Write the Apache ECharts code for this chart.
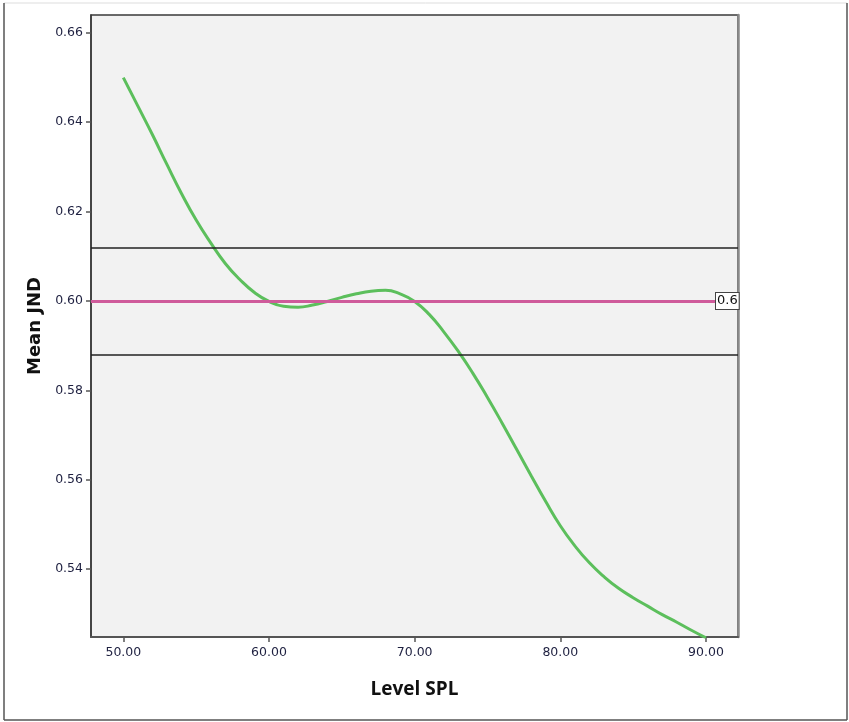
<!DOCTYPE html>
<html>
<head>
<meta charset="utf-8">
<script src="https://cdn.jsdelivr.net/npm/echarts@6/dist/echarts.min.js"></script>
<style>
  html, body { margin: 0; padding: 0; background: #ffffff; }
  #chart { width: 849px; height: 722px; }
</style>
</head>
<body>
<div id="chart"></div>
<script>
// Fitted mean JND curve by sound level (dB SPL)
const levelSPL = [50, 51, 52, 53, 54, 55, 56, 57, 58, 59, 60, 61, 62, 63, 64, 65, 66, 67, 68, 69, 70,
                  71, 72, 73, 74, 75, 76, 77, 78, 79, 80, 81, 82, 83, 84, 85, 86, 87, 88, 89, 90];
const meanJND = [0.6500, 0.6436, 0.6372, 0.6305, 0.6240, 0.6181, 0.6130, 0.6084, 0.6048, 0.6019, 0.5999,
                 0.5988, 0.5986, 0.5991, 0.5999, 0.6008, 0.6016, 0.6022, 0.6024, 0.6016, 0.5999,
                 0.5970, 0.5931, 0.5887, 0.5838, 0.5784, 0.5727, 0.5668, 0.5609, 0.5551, 0.5497,
                 0.5452, 0.5414, 0.5383, 0.5357, 0.5336, 0.5317, 0.5298, 0.5281, 0.5263, 0.5246];

// Reference lines: target value and its band
const targetValue = 0.6;
const bandLimits = [0.612, 0.588];

// Tick labels
const xTicks = [50, 60, 70, 80, 90];
const yTicks = [0.54, 0.56, 0.58, 0.60, 0.62, 0.64, 0.66];

const curve = levelSPL.map((x, i) => [x, meanJND[i]]);

const chart = echarts.init(document.getElementById('chart'), null, { renderer: 'canvas' });

const tickFont = { fontFamily: 'DejaVu Sans', fontSize: 12.5, color: '#1e2040' };

chart.setOption({
  animation: false,
  backgroundColor: '#ffffff',
  grid: {
    left: 91, top: 15, right: 111, bottom: 85,
    show: true, backgroundColor: '#f2f2f2', borderColor: '#3a3a3a', borderWidth: 1.5
  },
  xAxis: {
    type: 'value', min: 47.78, max: 92.2,
    splitLine: { show: false },
    axisLine: { show: true, onZero: false, lineStyle: { color: '#555', width: 2 } },
    axisTick: { show: true, customValues: xTicks, length: 5, lineStyle: { color: '#555', width: 1.5 } },
    axisLabel: {
      customValues: xTicks, margin: 9, ...tickFont,
      formatter: v => v.toFixed(2)
    },
    name: 'Level SPL', nameLocation: 'middle', nameGap: 43,
    nameTextStyle: { fontFamily: 'Open Sans', fontWeight: 'bold', fontSize: 19, color: '#111' }
  },
  yAxis: [{
    type: 'value', min: 0.5248, max: 0.6640,
    splitLine: { show: false },
    axisLine: { show: true, onZero: false, lineStyle: { color: '#3a3a3a', width: 1.5 } },
    axisTick: { show: true, customValues: yTicks, length: 5, lineStyle: { color: '#555', width: 1.5 } },
    axisLabel: {
      customValues: yTicks, margin: 8, ...tickFont,
      formatter: v => v.toFixed(2)
    },
    name: 'Mean JND', nameLocation: 'middle', nameGap: 46, nameRotate: 90,
    nameTextStyle: { fontFamily: 'DejaVu Sans', fontWeight: 'bold', fontSize: 18, color: '#111' }
  }, {
    type: 'value', position: 'right', min: 0.5248, max: 0.6640,
    splitLine: { show: false },
    axisLine: { show: true, lineStyle: { color: '#8a8a8a', width: 2.5 } },
    axisTick: { show: false }, axisLabel: { show: false }
  }],
  series: [{
    type: 'line',
    data: curve,
    smooth: true,
    showSymbol: false,
    lineStyle: { color: '#5cbf5c', width: 3 },
    z: 3,
    markLine: {
      silent: true,
      symbol: 'none',
      precision: 3,
      animation: false,
      data: [
        {
          yAxis: targetValue,
          lineStyle: { color: '#cf5b9b', width: 3, type: 'solid' },
          label: {
            show: true, position: 'end', distance: -22,
            formatter: String(targetValue),
            fontFamily: 'DejaVu Sans', fontSize: 13, color: '#111',
            backgroundColor: '#ffffff', borderColor: '#444', borderWidth: 1,
            padding: [2, 1, 1, 1]
          }
        },
        ...bandLimits.map(v => ({
          yAxis: v,
          lineStyle: { color: '#222', width: 1.5, type: 'solid' },
          label: { show: false }
        }))
      ]
    }
  }],
  graphic: [
    { type: 'line', shape: { x1: 4, y1: 3, x2: 847, y2: 3 }, style: { stroke: '#dddddd', lineWidth: 1 } },
    { type: 'line', shape: { x1: 4, y1: 3, x2: 4, y2: 720 }, style: { stroke: '#555', lineWidth: 1.5 } },
    { type: 'line', shape: { x1: 847, y1: 3, x2: 847, y2: 720 }, style: { stroke: '#555', lineWidth: 1.5 } },
    { type: 'line', shape: { x1: 4, y1: 720, x2: 847, y2: 720 }, style: { stroke: '#555', lineWidth: 1.5 } }
  ]
});
</script>
</body>
</html>
